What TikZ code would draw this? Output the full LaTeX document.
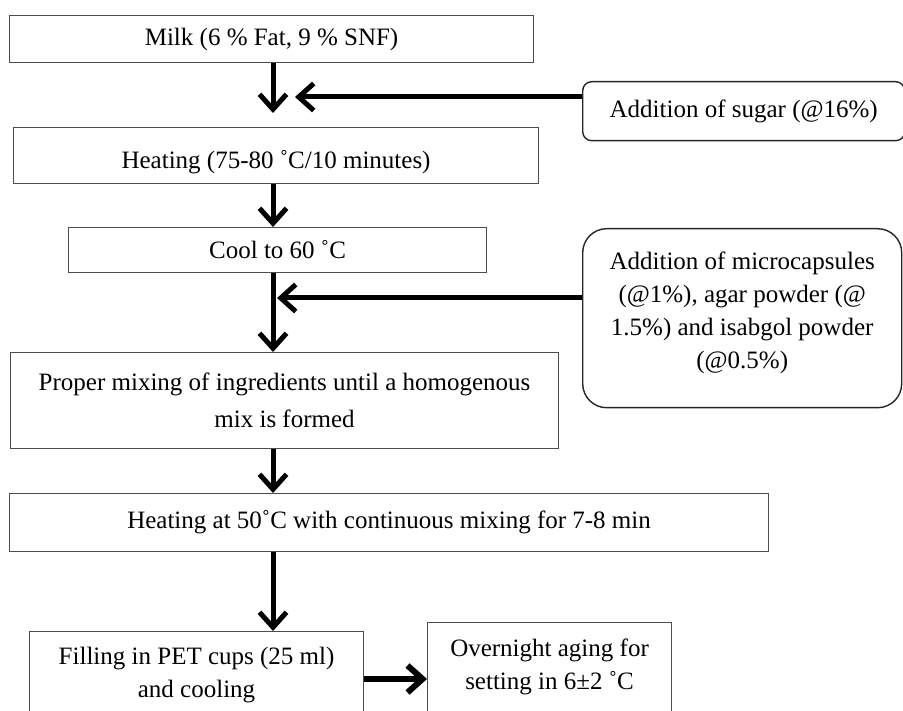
\documentclass[tikz,border=0pt]{standalone}
\usepackage{fontspec}
\setmainfont{Liberation Serif}
\usetikzlibrary{arrows.meta}
\newcommand\fsz{\fontsize{25}{33}\selectfont}
\tikzset{
  box/.style={draw=black!70, line width=1.1pt, inner sep=0pt, anchor=north west, align=center, font=\fsz},
  rbox/.style={box, draw=black!85, line width=1.4pt},
  flow/.style={line width=5pt, -{Straight Barb[length=15pt,width=27pt]}},
}
\begin{document}
\begin{tikzpicture}[x=1pt,y=-1pt]
\useasboundingbox[fill=white] (0,0) rectangle (903,711);
% boxes
\node[box, minimum width=524pt, minimum height=47pt] (milk) at (9,15) {Milk (6 \% Fat, 9 \% SNF)};
\node[box, minimum width=525pt, minimum height=56pt, text height=32pt, text depth=6pt] (heat) at (13,127) {Heating (75-80 ˚C/10 minutes)};
\node[box, minimum width=418pt, minimum height=45pt] (cool) at (68,227) {Cool to 60 ˚C};
\node[box, minimum width=548pt, minimum height=96pt] (mix) at (10,352) {Proper mixing of ingredients until a homogenous\\[4pt] mix is formed};
\node[box, minimum width=759pt, minimum height=58pt] (heatfifty) at (9,493) {Heating at 50˚C with continuous mixing for 7-8 min};
\node[box, minimum width=334pt, minimum height=86pt] (fill) at (29,631) {Filling in PET cups (25 ml)\\ and cooling};
\node[box, minimum width=244pt, inner ysep=16pt, text depth=40pt] (age) at (427,622) {Overnight aging for\\ setting in 6±2 ˚C};
\node[rbox, rounded corners=9pt, minimum width=322pt, minimum height=59pt] (sugar) at (582,81) {Addition of sugar (@16\%)};
\node[rbox, rounded corners=24pt, minimum width=319pt, minimum height=179pt, text depth=16pt] (micro) at (582,228) {Addition of microcapsules\\ (@1\%), agar powder (@\\ 1.5\%) and isabgol powder\\ (@0.5\%)};
% connectors
\coordinate (t1) at (273,113);
\coordinate (s1) at (295,97);
\coordinate (s2) at (277,298);
\coordinate (a6) at (0,679);
\draw[flow] (milk.south -| t1) -- (t1);
\draw[flow] (sugar.west |- s1) -- (s1);
\draw[flow] (heat.south -| t1) -- (cool.north -| t1);
\draw[flow] (cool.south -| t1) -- (mix.north -| t1);
\draw[flow] (micro.west |- s2) -- (s2);
\draw[flow] (mix.south -| t1) -- (heatfifty.north -| t1);
\draw[flow] (heatfifty.south -| t1) -- (fill.north -| t1);
\draw[flow, line width=6pt] (fill.east |- a6) -- (age.west |- a6);
\end{tikzpicture}
\end{document}
